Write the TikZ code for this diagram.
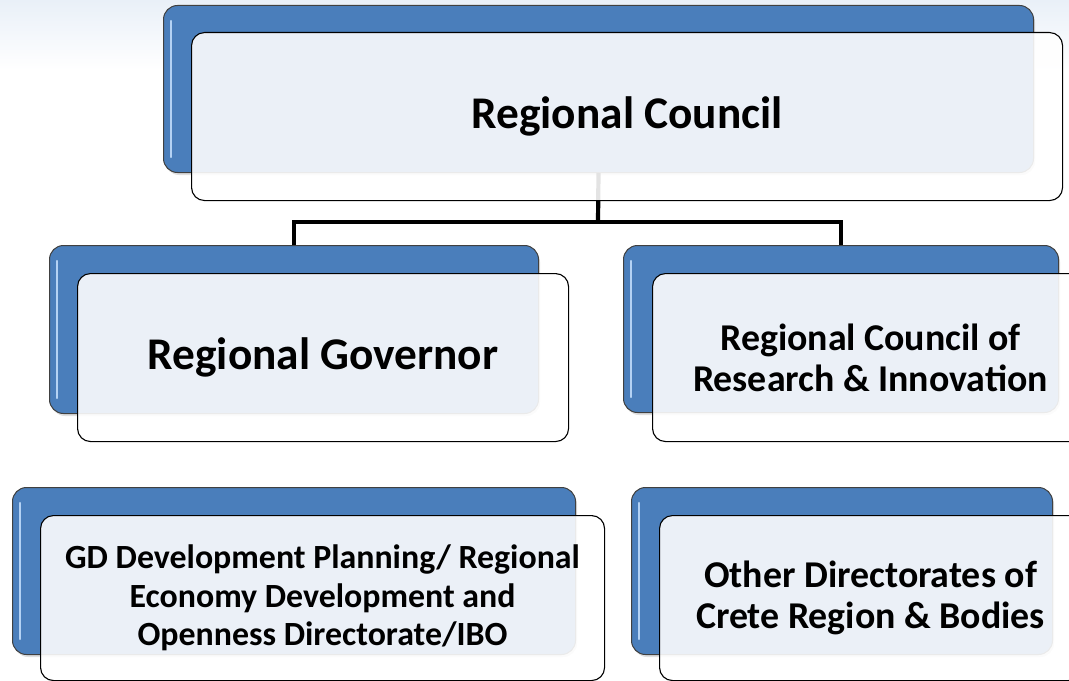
\documentclass[tikz,border=0pt]{standalone}
\usepackage{fontspec}
\setmainfont{Carlito}
\usetikzlibrary{shadows,calc}
\definecolor{boxblue}{HTML}{4A7EBB}
\definecolor{hlblue}{HTML}{B4D2F4}
\definecolor{bgtint}{HTML}{E9F0F8}
\begin{document}
\begin{tikzpicture}[x=1bp,y=-1bp,
  backbox/.style={draw=black!75, line width=1bp, fill=boxblue, rounded corners=14bp,
    anchor=north west, inner sep=0pt,
    drop shadow={opacity=0.25, shadow xshift=1.5bp, shadow yshift=-2.5bp}},
  frontbox/.style={draw=black, line width=1.1bp, fill=white, fill opacity=0.89, text opacity=1,
    rounded corners=13bp, anchor=north west, inner sep=0pt, align=center},
  conn/.style={line width=4.2bp, black},
  hl/.style={line width=2.2bp, hlblue, line cap=round}]
\useasboundingbox (0,0) rectangle (1069,681);
\clip (0,0) rectangle (1069,681);
\shade[top color=bgtint, bottom color=white] (0,0) rectangle (1069,70);
% back (blue) boxes
\node[backbox, minimum width=870bp, minimum height=167bp] (tb) at (163,5) {};
\node[backbox, minimum width=489bp, minimum height=168bp] (lb) at (49,245) {};
\node[backbox, minimum width=435bp, minimum height=167bp] (rb) at (623,245) {};
\node[backbox, minimum width=563bp, minimum height=167bp] (blb) at (12,487) {};
\node[backbox, minimum width=421bp, minimum height=167bp] (brb) at (631,487) {};
% highlights
\foreach \n in {tb,lb,rb,blb,brb}{
  \draw[hl] ($(\n.north west)+(8,16)$) -- ($(\n.south west)+(8,-16)$);
}
% connectors
\coordinate (j) at (598,222);
\draw[conn] (tb.south) -- (j);
\draw[conn] (lb.north) |- (j) -| (rb.north);
% front boxes
\node[frontbox, minimum width=871bp, minimum height=168bp,
  font={\bfseries\fontsize{45.5}{53}\selectfont}] (tf) at (191,32) {Regional Council};
\node[frontbox, minimum width=491bp, minimum height=168bp,
  font={\bfseries\fontsize{45.5}{53}\selectfont}] (lf) at (77,273) {Regional Governor};
\node[frontbox, minimum width=436bp, minimum height=168bp,
  font={\bfseries\fontsize{38}{41}\selectfont}] (rf) at (652,273)
  {Regional Council of\\Research \& Innovation};
\node[frontbox, minimum width=564bp, minimum height=165bp,
  font={\bfseries\fontsize{34}{38.5}\selectfont}] (blf) at (40,515)
  {GD Development Planning/ Regional\\Economy Development and\\Openness Directorate/IBO};
\node[frontbox, minimum width=422bp, minimum height=165bp,
  font={\bfseries\fontsize{38}{41}\selectfont}] (brf) at (659,515)
  {Other Directorates of\\Crete Region \& Bodies};
\end{tikzpicture}
\end{document}
